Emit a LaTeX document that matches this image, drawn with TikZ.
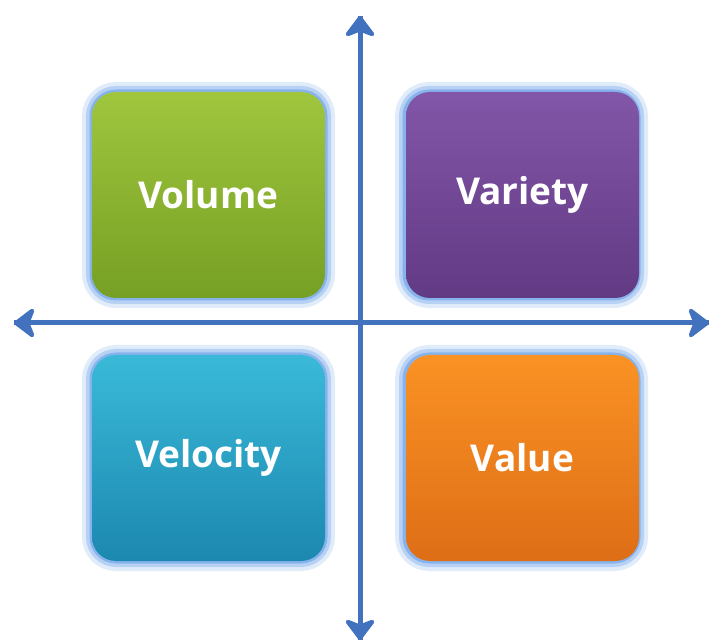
\documentclass[tikz,border=0pt]{standalone}
\usepackage{fontspec}
\setmainfont{Open Sans}
\usetikzlibrary{arrows.meta}
\definecolor{axisblue}{RGB}{66,114,190}
\definecolor{glowblue}{RGB}{120,170,235}
\definecolor{greenT}{RGB}{160,198,62}
\definecolor{greenB}{RGB}{118,160,36}
\definecolor{purpT}{RGB}{130,86,168}
\definecolor{purpB}{RGB}{98,58,132}
\definecolor{tealT}{RGB}{58,186,216}
\definecolor{tealB}{RGB}{28,136,176}
\definecolor{orT}{RGB}{250,146,36}
\definecolor{orB}{RGB}{222,110,22}
\tikzset{
  quad/.style={rounded corners=24pt, minimum width=233pt, minimum height=206pt,
    inner sep=0pt, font=\fontsize{37}{42}\selectfont\bfseries, text=white},
  glowA/.style={draw=glowblue, draw opacity=0.22, line width=20pt, rounded corners=24pt},
  glowB/.style={draw=glowblue, draw opacity=0.4, line width=12pt, rounded corners=24pt},
  glowC/.style={draw=glowblue, draw opacity=0.75, line width=5pt, rounded corners=24pt},
  axis/.style={draw=axisblue, line width=5pt,
    -{Stealth[length=24pt, width=36pt, inset=7pt, round]}},
}
\begin{document}
\begin{tikzpicture}[x=1pt,y=-1pt]
\useasboundingbox (0,0) rectangle (713,644);
\fill[white] (0,0) rectangle (713,644);
% glows
\foreach \x/\y in {92/92, 405/92, 92/355, 405/355}{
  \draw[glowA] (\x,\y) rectangle ++(233,206);
  \draw[glowB] (\x,\y) rectangle ++(233,206);
  \draw[glowC] (\x,\y) rectangle ++(233,206);
}
\node[quad, top color=greenT, bottom color=greenB] (volume) at (208.5,195) {Volume};
\node[quad, top color=purpT, bottom color=purpB] (variety) at (522.5,195) {Variety};
\node[quad, top color=tealT, bottom color=tealB] (velocity) at (208.5,458) {Velocity};
\node[quad, top color=orT, bottom color=orB] (value) at (522.5,458) {Value};
\coordinate (top) at (360,16);
\coordinate (bottom) at (360,640);
\coordinate (left) at (14,323);
\coordinate (right) at (709,323);
\draw[axis] (bottom) -- (top);
\draw[axis] (top) -- (bottom);
\draw[axis] (right) -- (left);
\draw[axis] (left) -- (right);
\end{tikzpicture}
\end{document}
